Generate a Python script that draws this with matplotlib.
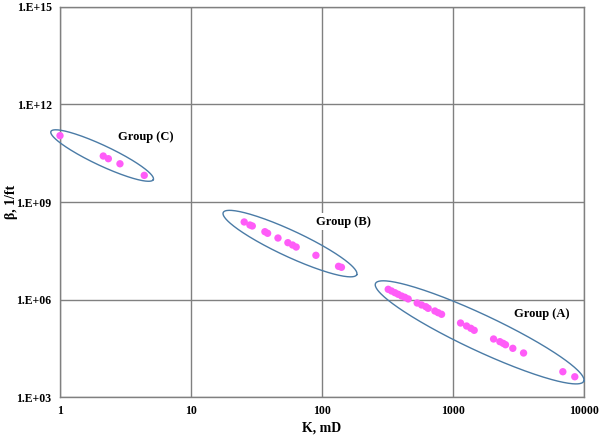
import numpy as np
import matplotlib.pyplot as plt

# --- dados (K em mD, beta em 1/ft) ---
k_a = [321, 340, 361, 382, 406, 430, 456, 534, 577, 622, 648, 729, 772, 820,
       1145, 1273, 1372, 1455, 2046, 2286, 2422, 2525, 2870, 3467, 6918, 8536]
beta_a = [2.06e6, 1.83e6, 1.62e6, 1.45e6, 1.28e6, 1.17e6, 1.04e6, 7.8e5, 6.8e5,
          6.0e5, 5.36e5, 4.43e5, 3.93e5, 3.51e5, 1.89e5, 1.53e5, 1.30e5, 1.13e5,
          6.1e4, 5.04e4, 4.49e4, 4.06e4, 3.15e4, 2.26e4, 6.0e3, 4.2e3]

k_b = [25.5, 28.2, 29.4, 36.7, 38.5, 46.2, 55.0, 59.7, 63.6, 90, 134, 141]
beta_b = [2.43e8, 1.96e8, 1.83e8, 1.22e8, 1.09e8, 7.8e7, 5.6e7, 4.75e7,
          4.12e7, 2.29e7, 1.05e7, 9.8e6]

k_c = [1.0, 2.14, 2.34, 2.87, 4.4]
beta_c = [1.1e11, 2.6e10, 2.15e10, 1.5e10, 6.6e9]

grupos = ['Group (A)', 'Group (B)', 'Group (C)']
pos_label_k = [4780, 146.5, 4.5]
pos_label_beta = [3.5e5, 2.5e8, 1.0e11]

y_ticks = [1e3, 1e6, 1e9, 1e12, 1e15]
y_labels = ['1.E+03', '1.E+06', '1.E+09', '1.E+12', '1.E+15']
x_ticks = [1, 10, 100, 1000, 10000]
x_labels = ['1', '10', '100', '1000', '10000']

plt.rcParams['font.family'] = ['Liberation Serif', 'DejaVu Serif']

fig = plt.figure(figsize=(6, 4.37), dpi=100)
ax = fig.add_axes([0.1, 0.0915, 0.873, 0.8925])
ax.set_xscale('log')
ax.set_yscale('log')
ax.set_xlim(1, 10000)
ax.set_ylim(1e3, 1e15)

# escala em "pixels" por década, para desenhar elipses sem distorção
px_x = 0.873 * 600 / 4
px_y = 0.8925 * 437 / 12


def elipse(ks, betas, pad, semi_menor, desloc=0.0):
    u = np.log10(ks) * px_x
    v = np.log10(betas) * px_y
    pts = np.column_stack([u, v])
    centro = pts.mean(axis=0)
    _, _, vt = np.linalg.svd(pts - centro)
    d = vt[0]
    proj = (pts - centro) @ d
    meio = (proj.max() + proj.min()) / 2 + desloc
    centro = centro + d * meio
    a = (proj.max() - proj.min()) / 2 + pad
    n = np.array([-d[1], d[0]])
    t = np.linspace(0, 2 * np.pi, 300)
    e = centro + np.outer(a * np.cos(t), d) + np.outer(semi_menor * np.sin(t), n)
    return 10 ** (e[:, 0] / px_x), 10 ** (e[:, 1] / px_y)


cor_pto = '#FF5CF8'
cor_elip = '#4A7BA6'
dados = [(k_a, beta_a, 12, 18, -2), (k_b, beta_b, 20, 13, -3), (k_c, beta_c, 10, 10, 0)]
for (ks, bs, pad, b, dl), nome, lk, lb in zip(dados, grupos, pos_label_k, pos_label_beta):
    ax.scatter(ks, bs, s=28, color=cor_pto, edgecolors='none', zorder=3, clip_on=False)
    ex, ey = elipse(ks, bs, pad, b, dl)
    ax.plot(ex, ey, color=cor_elip, linewidth=1.0, zorder=4, clip_on=False)
    ax.text(lk, lb, nome, ha='center', va='center', fontsize=9, fontweight='bold',
            bbox=dict(facecolor='white', edgecolor='none', pad=1.5), zorder=2)

ax.set_xticks(x_ticks)
ax.set_xticklabels(x_labels)
ax.set_yticks(y_ticks)
ax.set_yticklabels(y_labels)
ax.minorticks_off()
ax.tick_params(length=0, labelsize=8.5, pad=6)
for lab in ax.get_xticklabels() + ax.get_yticklabels():
    lab.set_fontweight('bold')

ax.grid(True, color='#808080', linewidth=1.0, zorder=0)
ax.set_axisbelow(True)
for s in ax.spines.values():
    s.set_color('#808080')
    s.set_linewidth(1.0)

ax.set_xlabel('K, mD', fontsize=10, fontweight='bold', labelpad=3)
ax.set_ylabel('β, 1/ft', fontsize=10, fontweight='bold')
ax.yaxis.label.set_verticalalignment('center')
ax.yaxis.set_label_coords(-0.092, 0.5)

fig.savefig('out.png', dpi=100)
